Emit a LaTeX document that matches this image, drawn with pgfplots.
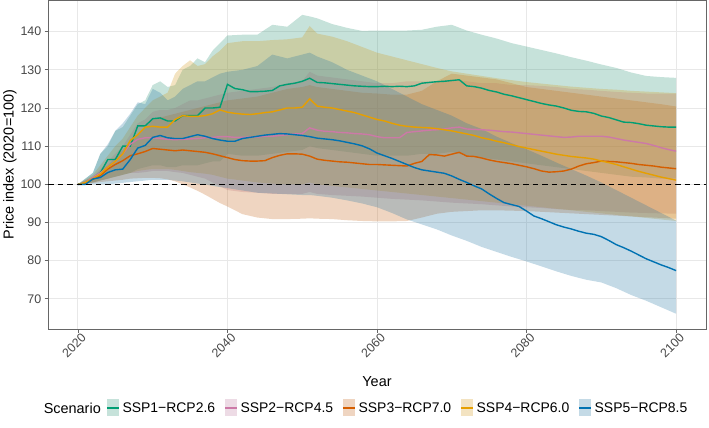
\documentclass[border=0pt]{standalone}
\usepackage{fontspec}
\setmainfont{Liberation Sans}
\usepackage{pgfplots}
\pgfplotsset{compat=1.18}
\usepackage{pgfplotstable}
\usepgfplotslibrary{fillbetween}

\definecolor{cI}{HTML}{009E73}
\definecolor{cII}{HTML}{CC79A7}
\definecolor{cIII}{HTML}{D55E00}
\definecolor{cIV}{HTML}{E69F00}
\definecolor{cV}{HTML}{0072B2}
\colorlet{fI}{cI!65!gray}
\colorlet{fII}{cII!80!gray}
\colorlet{fIII}{cIII!80!gray}
\colorlet{fIV}{cIV!80!gray}
\colorlet{fV}{cV!70!gray}

% median price index per scenario
\pgfplotstableread{
year g p o y b
2020 100 100 100 100 100
2021 100.3 100.5 100.3 100.5 100
2022 101.5 101.8 101.3 101.5 101.4
2023 103 103 102.3 102.7 101.8
2024 106.5 104.5 104 104.5 103.1
2025 106.5 106 105.2 106 103.8
2026 110 108 106.2 108 104
2027 110 110.5 107.5 111.5 106.5
2028 115.3 111.8 108 113 109.5
2029 115.3 112.2 108.6 115 110.2
2030 117.2 112.2 109.4 115.2 112.3
2031 117.4 112 109.2 115 112.8
2032 116.6 111.8 109 115 112.2
2033 116.6 111.7 108.8 117 112
2034 118 111.8 109 118 112
2035 118 111.9 108.8 117.8 112.5
2036 118 112 108.6 117.8 113
2037 120 112.2 108.4 118 112.6
2038 120 112.3 108 118.5 112
2039 120.2 112.5 107.5 119.5 111.6
2040 126.2 112.5 107 118.9 111.3
2041 125.1 112.3 106.5 118.6 111.3
2042 124.8 112.3 106.2 118.4 112
2043 124.3 112.4 106.1 118.3 112.3
2044 124.3 112.4 106.1 118.5 112.6
2045 124.4 112.6 106.2 118.8 112.9
2046 124.6 112.6 107 119 113.1
2047 125.8 112.8 107.6 119.5 113.3
2048 126.2 113 108 120 113.2
2049 126.5 113.2 108 120 113
2050 127 113.3 107.9 120.2 112.8
2051 127.8 114.8 107.4 122.4 112.5
2052 126.7 114.2 106.6 120.5 112.1
2053 126.6 113.9 106.3 120.2 111.9
2054 126.4 113.8 106.1 120 111.7
2055 126.2 113.6 105.9 119.6 111.4
2056 126 113.5 105.8 119.2 111
2057 125.8 113.3 105.6 118.8 110.6
2058 125.7 113.2 105.4 118.2 110.1
2059 125.6 113 105.2 117.6 109.3
2060 125.6 112.5 105.2 117 108.2
2061 125.7 112.2 105.1 116.6 107.5
2062 125.6 112.2 105 116 106.8
2063 125.7 112.2 104.9 115.5 106
2064 125.6 113.6 104.8 115.2 105.2
2065 125.8 113.8 105.5 115 104.4
2066 126.5 114 106 114.9 103.8
2067 126.7 114.2 107.8 114.8 103.5
2068 126.9 114.3 107.7 114.6 103.2
2069 127 114.5 107.4 114.3 102.9
2070 127.2 114.8 107.9 114 102.2
2071 127.4 115 108.4 113.6 101.3
2072 125.8 114.5 107.4 113.2 100.5
2073 125.6 114.4 107.3 112.8 99.6
2074 125.2 114.3 106.9 112.2 98.8
2075 124.6 114.2 106.4 111.8 97.5
2076 124.2 114 106 111.3 96.3
2077 123.6 113.8 105.7 110.9 95.2
2078 123.2 113.7 105.4 110.4 94.7
2079 122.7 113.5 105 109.9 94.2
2080 122.2 113.3 104.6 109.5 93
2081 121.7 113.1 104.1 109.1 91.7
2082 121.2 112.9 103.5 108.7 91
2083 120.8 112.7 103.2 108.3 90.2
2084 120.5 112.5 103.3 107.9 89.4
2085 120 112.3 103.5 107.6 88.8
2086 119.4 112.4 104 107.3 88.3
2087 119.1 112.6 104.8 107.1 87.7
2088 119 112.6 105.4 106.9 87.2
2089 118.6 112.6 105.7 106.6 86.9
2090 117.9 112.6 106.1 106.1 86.3
2091 117.5 112.4 106 105.7 85.3
2092 116.9 112 105.9 105.2 84.2
2093 116.3 111.6 105.7 104.6 83.4
2094 116.2 111.3 105.5 104 82.5
2095 115.9 111 105.2 103.4 81.5
2096 115.5 110.7 105 102.9 80.5
2097 115.3 110.2 104.8 102.4 79.7
2098 115.1 109.6 104.5 101.9 78.9
2099 115 109.1 104.3 101.5 78.2
2100 115 108.7 104.1 101.1 77.4
}\means

% uncertainty bands (lower / upper) per scenario
\pgfplotstableread{
year glo ghi plo phi olo ohi ylo yhi blo bhi
2020 100 100 100 100 100 100 100 100 100 100
2022 100.5 103 100.5 102 100.3 102 100.5 102.5 100 103
2023 101 108 101 104 100.6 103.5 101 105 100 108
2024 101.5 110 101.5 106 100.8 105 101.5 107.5 100 110.5
2025 102 114 102 108 101 107 102 110 100.2 114
2026 102.5 115 102.5 110 101.2 109 102.5 112 100.4 116
2027 103 118 103 113 101.5 111 103 115 100.6 118.5
2028 104 121 103 116 101.6 113 103.5 118 100.8 121.5
2029 104.5 122 103.2 117 101.7 115 103.8 120 101 121
2030 105 126 103.5 119 101.7 117 104 122 101.2 125
2031 105 127 103.5 119.5 101.6 117.5 104 123 101.2 124
2032 104.5 125.5 103.5 119.5 101.3 118 104 124 101.2 122
2033 104.5 126 103.2 120 100.8 118.5 103.8 129 101 123
2034 105 130 103 121 100 119 103.5 131 100.8 125
2035 105 131 102.5 122 99.2 119.5 103.2 132.5 100.5 126
2036 105 133 102 122 98.3 120 103 131 100.2 127
2037 105.5 132 101.5 122.5 97.3 120.5 102.8 131.5 100 127
2038 106 135 100.5 123 96.2 121 102.5 133.5 99.6 128
2039 106 137 99.5 123.5 95.1 121.5 102 135 99.3 129
2040 108 139 98.5 124 94.2 122 101.5 137 99 129.5
2042 107.5 139.2 98 124.5 92.2 122.5 101 137.5 98.4 130
2044 107.5 139.2 97.8 125 91.3 123 100.5 137.5 97.8 131
2046 108 141.8 97.5 125.5 90.9 124 100.2 137.8 97.6 134
2048 108.5 141.3 97.5 126.5 90.9 125 100 138 97.4 133
2050 109 144.4 97.5 127 91 125.5 100 138.5 97.2 134
2051 110 144 98 129.5 91.1 126 100.5 141.5 97.2 134.5
2052 109.5 143.5 97.5 128.5 91 125.5 100 139.5 97 133.5
2054 109 142 97.2 128 90.9 125 99.6 138.7 96.5 132
2056 108.5 141 97 127.5 90.6 124.5 99.2 137.5 95.8 130
2058 108 140.2 96.8 127 90.4 124 98.8 136 95 128.5
2060 107.5 140.3 96.5 126.5 90.3 123.8 98.4 134.5 94 127
2062 107.5 140.3 96.2 126.5 90.3 123.5 98 133.5 92.5 125
2064 107.5 140.3 96 127 90.4 123.5 97.6 132.5 90.8 123
2066 108 140.5 95.8 127 91.3 124.5 97.2 131.5 89.5 121
2068 108 141.3 95.5 127 92.3 127 96.8 130.5 88.2 119.5
2070 108.5 141.8 95.2 127.5 92.8 129 96.4 129.6 86.6 118
2072 107.5 140.3 95 127 93 128.5 96 129 85.2 116
2074 107 139.2 94.8 126.5 93.2 128 95.6 128.4 83.6 114.5
2076 106.5 138.2 94.5 126.5 93.2 127.5 95.2 127.8 82.3 112.5
2078 106 137 94.2 126 93.1 126.5 94.8 127.3 81 110.8
2080 105.5 136.1 94 126 93 125.5 94.4 126.8 79.8 109.2
2082 105 135.2 93.8 125.8 92.8 125 94 126.4 78.5 107.5
2084 104.5 134.3 93.5 125.5 92.6 124.5 93.6 126 77.2 105.7
2086 104 133.3 93.3 125 92.4 124 93.2 125.6 76 104
2088 103.5 132.4 93.2 124.8 92.2 123.5 92.8 125.3 75 102.3
2090 103 131.4 93 124.5 92 123 92.4 125 74.3 100.5
2092 102.5 130.5 92.8 124.2 91.8 122.5 92 124.8 72.8 98.5
2094 102 129.3 92.6 124 91.6 122 91.6 124.5 71 96.5
2096 101.8 128.4 92.5 123.8 91.4 121.5 91.2 124.3 69.5 94.5
2098 101.5 128.1 92.4 123.8 91.2 121 90.8 124.1 67.8 92.5
2100 101.5 127.9 92.3 123.8 91 120.4 90.4 123.9 66.1 90.5
}\bands

\newcommand\legkey[1]{\addlegendimage{legend image code/.code={%
  \path[fill=f#1, fill opacity=0.27, draw=none] (0bp,-8.5bp) rectangle (12bp,8.5bp);
  \path[draw=c#1, line width=1.4bp] (0bp,0bp) -- (12bp,0bp);}}}

\begin{document}
\begin{tikzpicture}
\begin{axis}[
  scale only axis, width=658bp, height=329bp,
  xmin=2016, xmax=2104, ymin=62.1, ymax=148.3,
  xtick={2020,2040,2060,2080,2100},
  ytick={70,80,90,100,110,120,130,140},
  grid=major,
  major grid style={draw=black!9, line width=0.9bp},
  axis line style={draw=black!60, line width=0.8bp},
  tick style={draw=black!60, line width=0.7bp},
  tick align=outside, major tick length=3.5bp, tick pos=left,
  /pgf/number format/assume math mode=true,
  /pgf/number format/1000 sep={},
  ticklabel style={font=\fontsize{12.5}{14}\selectfont, text=black!72},
  xticklabel style={rotate=45, anchor=north east, inner sep=1bp, xshift=3bp, yshift=-1bp},
  yticklabel style={anchor=east, inner sep=1bp, xshift=-2bp},
  xlabel={Year},
  xlabel style={at={(axis description cs:0.5,-0.161)}, anchor=center, font=\fontsize{14.5}{16}\selectfont},
  ylabel={Price index (2020=100)},
  ylabel style={at={(axis description cs:-0.058,0.5)}, anchor=center, font=\fontsize{14.5}{16}\selectfont},
  legend columns=5,
  legend cell align=left,
  legend style={at={(axis description cs:0.088,-0.240)}, anchor=west, draw=none, fill=none,
    font=\fontsize{14}{16}\selectfont, inner sep=0pt,
    nodes={inner sep=3bp},
    /tikz/every even column/.append style={column sep=6bp}},
]
% bands
\addplot[draw=none, name path=GH, forget plot] table[x=year, y=ghi]{\bands};
\addplot[draw=none, name path=GL, forget plot] table[x=year, y=glo]{\bands};
\addplot[draw=none, name path=PH, forget plot] table[x=year, y=phi]{\bands};
\addplot[draw=none, name path=PL, forget plot] table[x=year, y=plo]{\bands};
\addplot[draw=none, name path=OH, forget plot] table[x=year, y=ohi]{\bands};
\addplot[draw=none, name path=OL, forget plot] table[x=year, y=olo]{\bands};
\addplot[draw=none, name path=YH, forget plot] table[x=year, y=yhi]{\bands};
\addplot[draw=none, name path=YL, forget plot] table[x=year, y=ylo]{\bands};
\addplot[draw=none, name path=BH, forget plot] table[x=year, y=bhi]{\bands};
\addplot[draw=none, name path=BL, forget plot] table[x=year, y=blo]{\bands};
\addplot[fill=fI, fill opacity=0.27, draw=none, forget plot] fill between[of=GH and GL];
\addplot[fill=fII, fill opacity=0.27, draw=none, forget plot] fill between[of=PH and PL];
\addplot[fill=fIII, fill opacity=0.27, draw=none, forget plot] fill between[of=OH and OL];
\addplot[fill=fIV, fill opacity=0.27, draw=none, forget plot] fill between[of=YH and YL];
\addplot[fill=fV, fill opacity=0.27, draw=none, forget plot] fill between[of=BH and BL];
% medians
\addplot[cI, line width=1.4bp, forget plot] table[x=year, y=g]{\means};
\addplot[cII, line width=1.4bp, forget plot] table[x=year, y=p]{\means};
\addplot[cIII, line width=1.4bp, forget plot] table[x=year, y=o]{\means};
\addplot[cIV, line width=1.4bp, forget plot] table[x=year, y=y]{\means};
\addplot[cV, line width=1.4bp, forget plot] table[x=year, y=b]{\means};
% reference level
\addplot[black, line width=1.1bp, dash pattern=on 5.5bp off 4bp, forget plot] coordinates {(2016,100) (2104,100)};
% legend keys
\legkey{I}\addlegendentry{SSP1−RCP2.6}
\legkey{II}\addlegendentry{SSP2−RCP4.5}
\legkey{III}\addlegendentry{SSP3−RCP7.0}
\legkey{IV}\addlegendentry{SSP4−RCP6.0}
\legkey{V}\addlegendentry{SSP5−RCP8.5}
\end{axis}
\node[anchor=east, font=\fontsize{14.5}{16}\selectfont, inner sep=0pt] at (53bp,-79bp) {Scenario};
\pgfresetboundingbox
\path[use as bounding box] (-48bp,-99bp) rectangle (661bp,329bp);
\end{tikzpicture}
\end{document}
